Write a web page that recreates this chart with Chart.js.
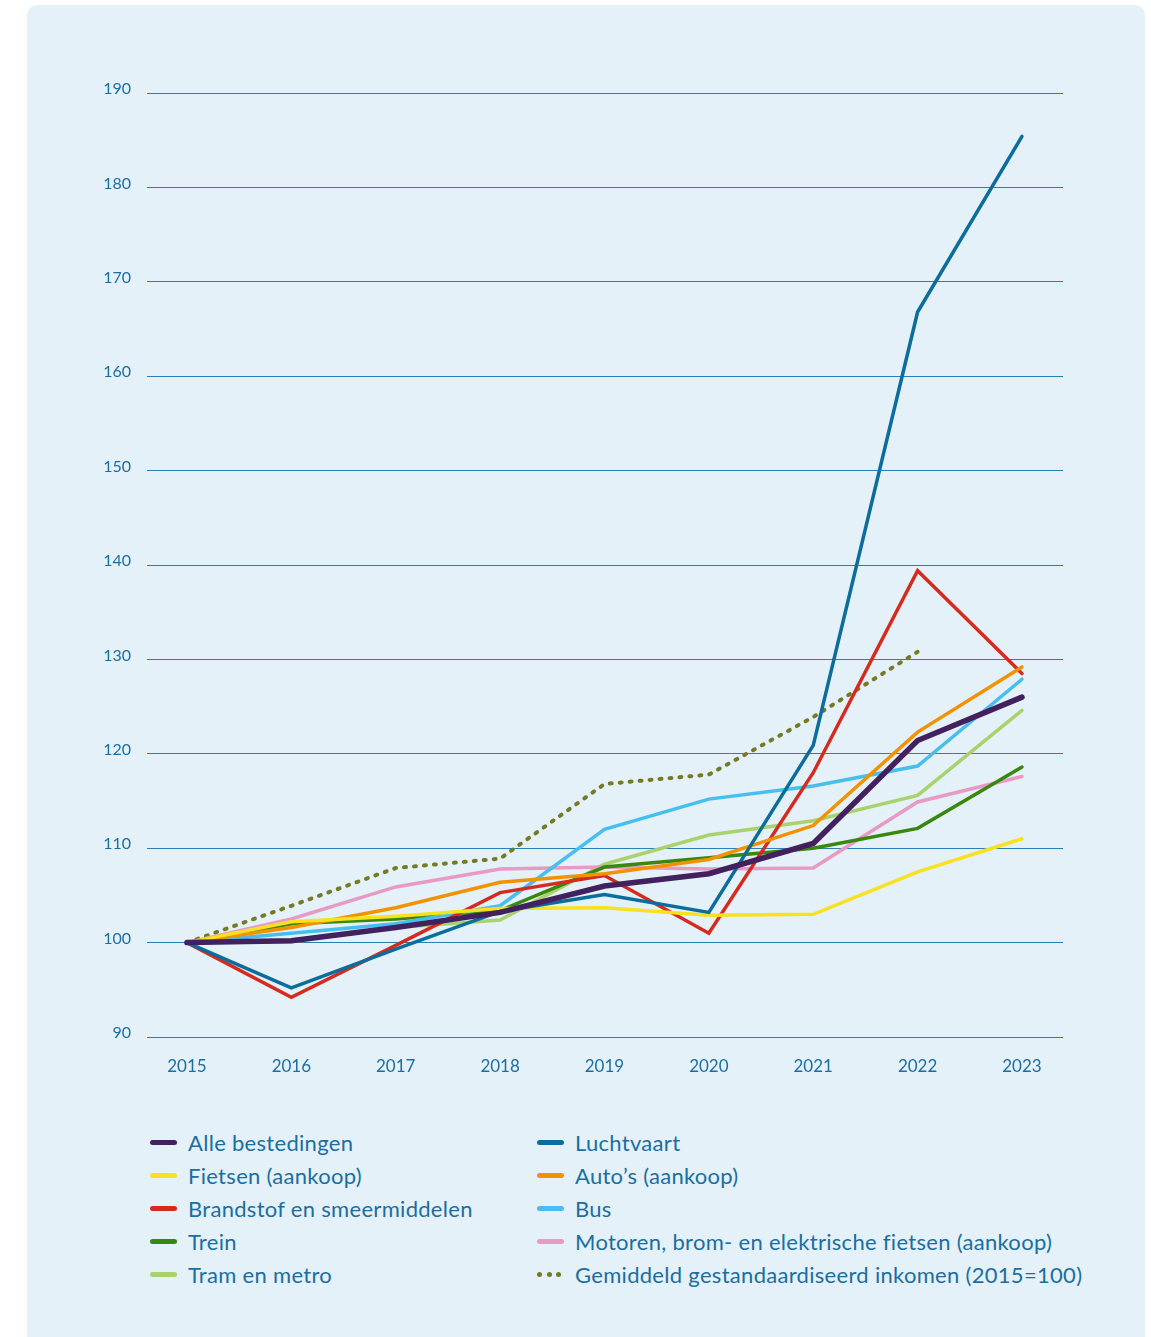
<!DOCTYPE html>
<html lang="nl">
<head>
<meta charset="utf-8">
<title>Prijsontwikkeling mobiliteit 2015-2023</title>
<script src="https://cdn.jsdelivr.net/npm/chart.js@4"></script>
<style>
  body {
    margin: 0;
    width: 1151px;
    height: 1337px;
    position: relative;
    overflow: hidden;
    background: #ffffff;
    font-family: Lato, "Open Sans", sans-serif;
  }
  .panel {
    position: absolute;
    left: 27px;
    top: 5px;
    width: 1118px;
    height: 1345px;
    background: #e4f1f9;
    border-radius: 10px;
  }
  .chart-wrap {
    position: absolute;
    left: 0;
    top: 0;
    width: 1151px;
    height: 1100px;
  }
  .legend {
    position: absolute;
    left: 150px;
    top: 1126px;
    display: grid;
    grid-template-columns: 387px auto;
  }
  .legend-item {
    height: 33px;
    display: flex;
    align-items: center;
    font-size: 22px;
    letter-spacing: 0.3px;
    color: #1b6e9f;
    white-space: nowrap;
  }
  .swatch {
    width: 27px;
    height: 5px;
    border-radius: 3px;
    margin-right: 11px;
    flex: none;
  }
  .swatch.dotted {
    background: none !important;
    display: flex;
    justify-content: space-between;
    width: 24px;
    margin-right: 14px;
  }
  .swatch.dotted span {
    width: 5px;
    height: 5px;
    border-radius: 50%;
  }
</style>
</head>
<body>
<div class="panel"></div>
<div class="chart-wrap"><canvas id="prijsChart"></canvas></div>
<div class="legend" id="legend"></div>

<script>
// Data (index 2015 = 100)
const years = [2015, 2016, 2017, 2018, 2019, 2020, 2021, 2022, 2023];
const yTicks = [90, 100, 110, 120, 130, 140, 150, 160, 170, 180, 190];

const alleBestedingen = [100, 100.2, 101.6, 103.2, 106.0, 107.3, 110.5, 121.4, 126.0];
const luchtvaart      = [100, 95.2, 99.3, 103.3, 105.1, 103.2, 120.9, 166.8, 185.4];
const fietsen         = [100, 102.2, 102.8, 103.6, 103.7, 102.9, 103.0, 107.5, 111.0];
const autos           = [100, 101.6, 103.7, 106.4, 107.3, 108.8, 112.4, 122.3, 129.2];
const brandstof       = [100, 94.2, 99.7, 105.3, 107.1, 101.0, 118.0, 139.4, 128.5];
const bus             = [100, 101.0, 102.0, 103.9, 112.0, 115.2, 116.6, 118.7, 127.9];
const trein           = [100, 102.0, 102.5, 103.4, 108.0, 109.0, 110.0, 112.1, 118.6];
const motoren         = [100, 102.5, 105.9, 107.8, 108.0, 107.8, 107.9, 114.9, 117.6];
const tramMetro       = [100, 100.1, 101.6, 102.4, 108.3, 111.4, 112.9, 115.6, 124.6];
const inkomen         = [100, 103.9, 107.9, 108.9, 116.8, 117.8, 123.9, 130.8, null];

const series = [
  { label: "Alle bestedingen", values: alleBestedingen, color: "#42215e", width: 5.5 },
  { label: "Luchtvaart", values: luchtvaart, color: "#0b6d9b", width: 3.5 },
  { label: "Fietsen (aankoop)", values: fietsen, color: "#f9e11e", width: 3.5 },
  { label: "Auto\u2019s (aankoop)", values: autos, color: "#f39200", width: 3.5 },
  { label: "Brandstof en smeermiddelen", values: brandstof, color: "#d52b1e", width: 3.5 },
  { label: "Bus", values: bus, color: "#47bfee", width: 3.5 },
  { label: "Trein", values: trein, color: "#39870c", width: 3.5 },
  { label: "Motoren, brom- en elektrische fietsen (aankoop)", values: motoren, color: "#e899c4", width: 3.5 },
  { label: "Tram en metro", values: tramMetro, color: "#a9d26d", width: 3.5 },
  { label: "Gemiddeld gestandaardiseerd inkomen (2015=100)", values: inkomen, color: "#767a23", width: 4, dotted: true },
];

const tickColor = "#1b6e9f";
const gridColor = "#2a7fb3";

const datasets = series.map((s) => ({
  label: s.label,
  data: years.map((yr, i) => ({ x: yr, y: s.values[i] })),
  borderColor: s.color,
  backgroundColor: s.color,
  borderWidth: s.width,
  borderDash: s.dotted ? [2, 8] : [],
  borderCapStyle: "round",
  borderJoinStyle: "miter",
  pointRadius: 0,
  tension: 0,
  fill: false,
  spanGaps: false,
}));

const ctx = document.getElementById("prijsChart");
const chart = new Chart(ctx, {
  type: "line",
  data: { datasets },
  options: {
    responsive: true,
    maintainAspectRatio: false,
    animation: false,
    layout: {
      padding: { top: 93, right: 88, left: 0, bottom: 0 },
    },
    plugins: {
      legend: { display: false },
      tooltip: { enabled: false },
    },
    scales: {
      x: {
        type: "linear",
        min: 2014.617,
        max: 2023.393,
        afterBuildTicks: (scale) => {
          scale.ticks = years.map((v) => ({ value: v }));
        },
        afterFit: (scale) => {
          scale.height = 63;
        },
        grid: { display: false, drawTicks: false },
        border: { display: false },
        ticks: {
          color: tickColor,
          padding: 19,
          font: { family: "Lato, sans-serif", size: 17 },
          callback: (v) => String(v),
        },
      },
      y: {
        min: 90,
        max: 190,
        afterBuildTicks: (scale) => {
          scale.ticks = yTicks.map((v) => ({ value: v }));
        },
        afterFit: (scale) => {
          scale.width = 147;
        },
        grid: { color: gridColor, lineWidth: 1, drawTicks: false },
        border: { display: false },
        ticks: {
          color: tickColor,
          padding: 16,
          labelOffset: -4,
          font: { family: "Lato, sans-serif", size: 16 },
          callback: (v) => String(v),
        },
      },
    },
  },
});

// HTML legend built from the chart's datasets
const legendEl = document.getElementById("legend");
chart.data.datasets.forEach((ds, i) => {
  const item = document.createElement("div");
  item.className = "legend-item";
  const sw = document.createElement("span");
  sw.className = "swatch";
  if (series[i].dotted) {
    sw.className += " dotted";
    for (let k = 0; k < 3; k++) {
      const dot = document.createElement("span");
      dot.style.background = ds.borderColor;
      sw.appendChild(dot);
    }
  } else {
    sw.style.background = ds.borderColor;
  }
  item.appendChild(sw);
  item.appendChild(document.createTextNode(ds.label));
  legendEl.appendChild(item);
});
</script>
</body>
</html>
